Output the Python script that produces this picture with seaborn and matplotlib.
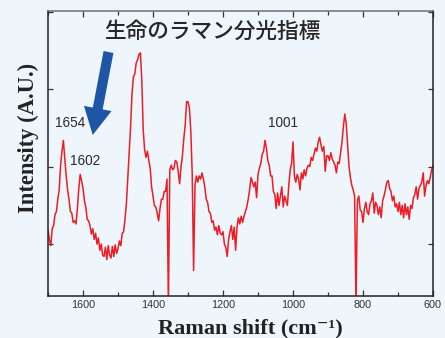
import numpy as np
import pandas as pd
import matplotlib
matplotlib.use("Agg")
import matplotlib.pyplot as plt
from matplotlib.patches import FancyArrow
from matplotlib.transforms import IdentityTransform
from matplotlib.ticker import MultipleLocator
import seaborn as sns

# Raman shift grid (cm^-1), sampled every 4 cm^-1 from 1700 down to 600
wavenumber = np.arange(1700, 599, -4)

# Measured intensity (arbitrary units) at each grid point
intensity = [
    18, 6, -2, 20, 24, 38, 42, 58, 70, 102,
    120, 134, 110, 88, 70, 58, 42, 40, 28, 30,
    26, 46, 72, 90, 82, 72, 56, 48, 32, 30,
    24, 13, 20, 6, 14, 0, 8, -8, 0, -14,
    -16, -4, -20, -2, -14, -18, -3, -16, -1, -12,
    -6, 4, -2, 14, 16, 32, 52, 86, 118, 152,
    194, 216, 220, 234, 238, 245, 247, 212, 148, 122,
    112, 120, 108, 98, 74, 62, 50, 48, 40, 30,
    46, 58, 58, 68, 68, 84, -80, 96, 102, 96,
    98, 108, 106, 94, 78, 100, 114, 136, 154, 184,
    184, 176, 146, 92, -34, 76, 88, 80, 88, 84,
    92, 84, 74, 58, 54, 42, 40, 28, 30, 18,
    22, 12, 24, 14, 12, 16, 0, -4, -16, 6,
    16, 24, 6, 22, -8, 22, 34, 26, 36, 28,
    36, 42, 48, 58, 70, 86, 80, 74, 80, 60,
    90, 98, 104, 116, 120, 134, 124, 108, 102, 88,
    88, 68, 64, 46, 66, 50, 62, 74, 48, 62,
    56, 50, 76, 96, 104, 132, 88, 80, 90, 84,
    70, 92, 84, 96, 88, 98, 102, 100, 112, 108,
    116, 124, 120, 132, 138, 128, 120, 126, 94, 114,
    114, 108, 118, 110, 106, 102, 92, 106, 104, 118,
    132, 152, 168, 156, 128, 100, 86, 76, 70, 62,
    -80, 56, 62, 44, 42, 28, 46, 54, 42, 38,
    52, 56, 66, 40, 54, 50, 38, 48, 34, 56,
    62, 70, 80, 82, 72, 68, 56, 62, 48, 52,
    42, 54, 38, 50, 34, 52, 38, 48, 32, 50,
    46, 60, 64, 74, 58, 72, 76, 80, 92, 62,
    76, 82, 78, 86, 96, 102,
]

peak_labels = ["1654", "1602", "1001"]
title_text = "生命のラマン分光指標"
x_ticks = [1600, 1400, 1200, 1000, 800, 600]

spectrum = pd.DataFrame({"shift": wavenumber, "intensity": intensity})

sns.set_theme(style="ticks")
bg = "#eef6fc"
plt.rcParams["font.family"] = ["Liberation Sans", "DejaVu Sans"]

fig = plt.figure(figsize=(4.45, 3.38), dpi=100, facecolor=bg)
ax = fig.add_axes([48 / 445, 1 - 296 / 338, 385 / 445, 285 / 338])
ax.set_facecolor(bg)

sns.lineplot(data=spectrum, x="shift", y="intensity", ax=ax, color="#ee1c25",
             linewidth=1.1, estimator=None, sort=False)

ax.set_xlim(1700, 600)
ax.set_ylim(-67, 301)
ax.set_xticks(x_ticks)
ax.xaxis.set_minor_locator(MultipleLocator(100))
ax.set_yticks([0, 100, 200, 300])
ax.set_yticklabels([])
ax.set_xlabel("")
ax.set_ylabel("")

ax.tick_params(axis="both", which="both", direction="in", top=True, right=True,
               color="#333333")
ax.tick_params(axis="x", which="major", length=4.3, width=0.9, pad=3.2,
               labelsize=7.8, labelcolor="#333333")
ax.tick_params(axis="x", which="minor", length=2.8, width=0.9)
ax.tick_params(axis="y", which="major", length=3.5, width=0.9)

for side in ["left", "bottom", "right"]:
    ax.spines[side].set_color("#222222")
    ax.spines[side].set_linewidth(1.1)
ax.spines["top"].set_color("#6f6f6f")
ax.spines["top"].set_linewidth(1.1)

# peak annotations
label_font = dict(fontsize=9.8, color="#2a2a2a", ha="center", va="center",
                  family=["Liberation Sans", "DejaVu Sans"])
ax.text(1637, 156, peak_labels[0], **label_font)
ax.text(1594, 107, peak_labels[1], **label_font)
ax.text(1029, 156, peak_labels[2], **label_font)

# heading inside the plot
ax.text(0.427, 0.926, title_text, transform=ax.transAxes, fontsize=15.6,
        color="#262626", ha="center", va="center", fontweight="medium",
        family=["Noto Sans CJK JP", "DejaVu Sans"])

# blue pointer arrow (figure pixel coordinates)
tail = (108.5, 338 - 52)
tip = (92.7, 338 - 135)
arrow = FancyArrow(tail[0], tail[1], tip[0] - tail[0], tip[1] - tail[1],
                   width=10, head_width=28, head_length=27,
                   length_includes_head=True, color="#1f55a5", lw=0,
                   transform=IdentityTransform())
fig.patches.append(arrow)

# axis titles
fig.text(250 / 445, 1 - 333 / 338, "Raman shift (cm\u207b\u00b9)",
         ha="center", va="baseline", fontsize=16, fontweight="bold",
         color="#222222", family=["Liberation Serif", "DejaVu Serif"])
fig.text(28 / 445, 1 - 138 / 338, "Intensity (A.U.)", rotation=90,
         ha="center", va="center", fontsize=16.3, fontweight="bold",
         color="#222222", family=["Liberation Serif", "DejaVu Serif"])

fig.savefig("out.png", dpi=100, facecolor=bg)
